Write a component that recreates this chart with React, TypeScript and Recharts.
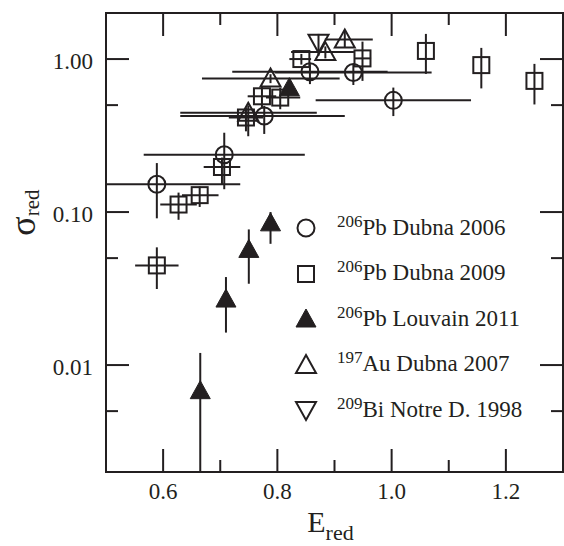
import React from "react";
import {
  ErrorBar,
  Legend,
  ReferenceArea,
  Scatter,
  ScatterChart,
  XAxis,
  YAxis,
} from "recharts";

const X_TICKS = [0.6, 0.7, 0.8, 0.9, 1.0, 1.1, 1.2];
const X_LABELED = [0.6, 0.8, 1.0, 1.2];
const Y_TICKS = [0.005, 0.01, 0.05, 0.1, 0.5, 1];
const Y_LABELED = [0.01, 0.1, 1];

// 206Pb Dubna 2006 (open circles)
const pbDubna06E = [0.589, 0.707, 0.777, 0.857, 0.933, 1.003];
const pbDubna06S = [0.152, 0.237, 0.424, 0.826, 0.817, 0.537];
const pbDubna06Ex = [[0.089, 0.146], [0.141, 0.141], [0.147, 0.141], [0.136, 0.136], [0.137, 0.137], [0.136, 0.136]];
const pbDubna06Sy = [[0.061, 0.057], [0.096, 0.093], [0.1, 0.07], [0.14, 0.1], [0.14, 0.11], [0.113, 0.114]];

// 206Pb Dubna 2009 (open squares)
const pbDubna09E = [0.589, 0.627, 0.664, 0.703, 0.745, 0.773, 0.805, 0.842, 0.949, 1.06, 1.157, 1.25];
const pbDubna09S = [0.0448, 0.112, 0.129, 0.197, 0.415, 0.571, 0.56, 1.0, 1.01, 1.13, 0.913, 0.72];
const pbDubna09Ex = [[0.038, 0.038], [0.032, 0.032], [0.031, 0.033], [0.032, 0.032], [0.03, 0.03], [0.025, 0.025], [0.025, 0.035], [0.021, 0.017], [0.014, 0.015], [0, 0], [0, 0], [0, 0]];
const pbDubna09Sy = [[0.0134, 0.014], [0.023, 0.022], [0.021, 0.018], [0.045, 0.03], [0.078, 0.068], [0.09, 0.096], [0.09, 0.09], [0.08, 0.08], [0.29, 0.29], [0.33, 0.33], [0.27, 0.27], [0.215, 0.21]];

// 206Pb Louvain 2011 (filled triangles)
const pbLouvainE = [0.665, 0.71, 0.75, 0.788, 0.821];
const pbLouvainS = [0.0068, 0.027, 0.057, 0.085, 0.65];
const pbLouvainSy = [[0.0048, 0.0052], [0.0107, 0.0106], [0.023, 0.02], [0.023, 0.015], [0, 0]];

// 197Au Dubna 2007 (open triangles)
const auDubnaE = [0.749, 0.788, 0.884, 0.918];
const auDubnaS = [0.446, 0.746, 1.11, 1.34];
const auDubnaEx = [[0.119, 0.12], [0.12, 0.121], [0.06, 0.05], [0.035, 0.049]];
const auDubnaSy = [[0.133, 0.052], [0.05, 0.05], [0.1, 0.1], [0.15, 0.2]];

// 209Bi Notre Dame 1998 (open inverted triangles)
const biNotreE = [0.872];
const biNotreS = [1.28];
const biNotreSy = [[0.23, 0.18]];

const SERIES_ISO = ["206", "206", "206", "197", "209"];
const SERIES_LABEL = ["Pb Dubna 2006", "Pb Dubna 2009", "Pb Louvain 2011", "Au Dubna 2007", "Bi Notre D. 1998"];
const SERIES_MARKER = ["circle", "square", "filledTri", "openTri", "downTri"];

const INK = "#231f20";
const FONT = '"Liberation Serif", "Times New Roman", serif';

const W = 564;
const H = 546;
const PLOT_TOP = 13;
const PLOT_LEFT = 106;
const PLOT_RIGHT = 563;
const PLOT_BOTTOM = 472;

const zip = (xs: number[], ys: number[], ex?: number[][], ey?: number[][]) =>
  xs.map((x, i) => ({ x, y: ys[i], ex: ex ? ex[i] : [0, 0], ey: ey ? ey[i] : [0, 0] }));

const Marker = ({ kind, cx, cy }: { kind: string; cx: number; cy: number }) => {
  const sw = 2;
  if (kind === "circle") return <circle cx={cx} cy={cy} r={8.5} fill="none" stroke={INK} strokeWidth={sw} />;
  if (kind === "square")
    return <rect x={cx - 8} y={cy - 8} width={16} height={16} fill="none" stroke={INK} strokeWidth={sw} />;
  if (kind === "filledTri")
    return <polygon points={`${cx},${cy - 10} ${cx + 10},${cy + 8} ${cx - 10},${cy + 8}`} fill={INK} stroke={INK} strokeWidth={1} />;
  if (kind === "openTri")
    return <polygon points={`${cx},${cy - 10} ${cx + 10},${cy + 8} ${cx - 10},${cy + 8}`} fill="none" stroke={INK} strokeWidth={sw} />;
  return <polygon points={`${cx},${cy + 10} ${cx + 10},${cy - 8} ${cx - 10},${cy - 8}`} fill="none" stroke={INK} strokeWidth={sw} />;
};

const XTick = (props: any) => {
  const { x, payload } = props;
  const v = payload.value;
  const major = X_LABELED.includes(v);
  const len = major ? 23 : 12;
  return (
    <g>
      <line x1={x} x2={x} y1={PLOT_BOTTOM} y2={PLOT_BOTTOM - len} stroke={INK} strokeWidth={2} />
      <line x1={x} x2={x} y1={PLOT_TOP} y2={PLOT_TOP + len} stroke={INK} strokeWidth={2} />
      {major && (
        <text x={x} y={499} textAnchor="middle" fontSize={23} fontFamily={FONT} fill={INK}>
          {v.toFixed(1)}
        </text>
      )}
    </g>
  );
};

const YTick = (props: any) => {
  const { y, payload } = props;
  const v = payload.value;
  const major = Y_LABELED.includes(v);
  const len = major ? 23 : 12;
  return (
    <g>
      <line x1={PLOT_LEFT} x2={PLOT_LEFT + len} y1={y} y2={y} stroke={INK} strokeWidth={2} />
      <line x1={PLOT_RIGHT} x2={PLOT_RIGHT - len} y1={y} y2={y} stroke={INK} strokeWidth={2} />
      {major && (
        <text x={93} y={y + 10} textAnchor="end" fontSize={23} fontFamily={FONT} fill={INK}>
          {v.toFixed(2)}
        </text>
      )}
    </g>
  );
};

const XTitle = () => (
  <text x={330.5} y={532} textAnchor="middle" fontFamily={FONT} fill={INK}>
    <tspan fontSize={30}>E</tspan>
    <tspan fontSize={22} dy={8}>red</tspan>
  </text>
);

const YTitle = () => (
  <text x={35} y={212.5} transform="rotate(-90 35 212.5)" textAnchor="middle" fontFamily={FONT} fill={INK}>
    <tspan fontSize={36}>σ</tspan>
    <tspan fontSize={21} dy={4}>red</tspan>
  </text>
);

const LegendBox = () => (
  <div style={{ fontFamily: FONT, color: INK }}>
    {SERIES_LABEL.map((label, i) => (
      <div key={label} style={{ height: 45.5, display: "flex", alignItems: "center" }}>
        <svg width={30} height={30} style={{ flex: "none" }}>
          <Marker kind={SERIES_MARKER[i]} cx={15} cy={15} />
        </svg>
        <span style={{ marginLeft: 16, fontSize: 23, lineHeight: "23px", whiteSpace: "nowrap" }}>
          <span style={{ fontSize: 17, position: "relative", top: -8 }}>{SERIES_ISO[i]}</span>
          {label}
        </span>
      </div>
    ))}
  </div>
);

export default function App() {
  const circles = zip(pbDubna06E, pbDubna06S, pbDubna06Ex, pbDubna06Sy);
  const squares = zip(pbDubna09E, pbDubna09S, pbDubna09Ex, pbDubna09Sy);
  const louvain = zip(pbLouvainE, pbLouvainS, undefined, pbLouvainSy);
  const gold = zip(auDubnaE, auDubnaS, auDubnaEx, auDubnaSy);
  const bismuth = zip(biNotreE, biNotreS, undefined, biNotreSy);

  const bars = (withX: boolean) => [
    withX ? <ErrorBar key="x" dataKey="ex" direction="x" width={0} stroke={INK} strokeWidth={2} isAnimationActive={false} /> : null,
    <ErrorBar key="y" dataKey="ey" direction="y" width={0} stroke={INK} strokeWidth={2} isAnimationActive={false} />,
  ];

  return (
    <div style={{ position: "absolute", left: 0, top: 0, width: W, height: H, background: "#fff" }}>
      <ScatterChart width={W} height={H} margin={{ top: PLOT_TOP, right: W - PLOT_RIGHT, bottom: 0, left: 0 }}>
        <XAxis
          type="number"
          dataKey="x"
          domain={[0.5, 1.3]}
          ticks={X_TICKS}
          interval={0}
          tick={(p: any) => <XTick {...p} />}
          tickLine={false}
          axisLine={false}
          height={H - PLOT_BOTTOM}
          allowDataOverflow
          label={<XTitle />}
        />
        <YAxis
          type="number"
          dataKey="y"
          scale="log"
          domain={[0.002, 2]}
          ticks={Y_TICKS}
          interval={0}
          tick={(p: any) => <YTick {...p} />}
          tickLine={false}
          axisLine={false}
          width={PLOT_LEFT}
          allowDataOverflow
          label={<YTitle />}
        />
        <ReferenceArea x1={0.5} x2={1.3} y1={0.002} y2={2} fill="none" fillOpacity={0} stroke={INK} strokeWidth={2} ifOverflow="visible" />
        <Scatter name={SERIES_ISO[0] + SERIES_LABEL[0]} data={circles} isAnimationActive={false} shape={(p: any) => <Marker kind="circle" cx={p.cx} cy={p.cy} />}>
          {bars(true)}
        </Scatter>
        <Scatter name={SERIES_ISO[1] + SERIES_LABEL[1]} data={squares} isAnimationActive={false} shape={(p: any) => <Marker kind="square" cx={p.cx} cy={p.cy} />}>
          {bars(true)}
        </Scatter>
        <Scatter name={SERIES_ISO[2] + SERIES_LABEL[2]} data={louvain} isAnimationActive={false} shape={(p: any) => <Marker kind="filledTri" cx={p.cx} cy={p.cy} />}>
          {bars(false)}
        </Scatter>
        <Scatter name={SERIES_ISO[3] + SERIES_LABEL[3]} data={gold} isAnimationActive={false} shape={(p: any) => <Marker kind="openTri" cx={p.cx} cy={p.cy} />}>
          {bars(true)}
        </Scatter>
        <Scatter name={SERIES_ISO[4] + SERIES_LABEL[4]} data={bismuth} isAnimationActive={false} shape={(p: any) => <Marker kind="downTri" cx={p.cx} cy={p.cy} />}>
          {bars(false)}
        </Scatter>
        <Legend
          layout="vertical"
          align="center"
          verticalAlign="middle"
          content={() => <LegendBox />}
          wrapperStyle={{ position: "absolute", left: 291, top: 205.25, width: 270, height: 230 }}
        />
      </ScatterChart>
    </div>
  );
}
